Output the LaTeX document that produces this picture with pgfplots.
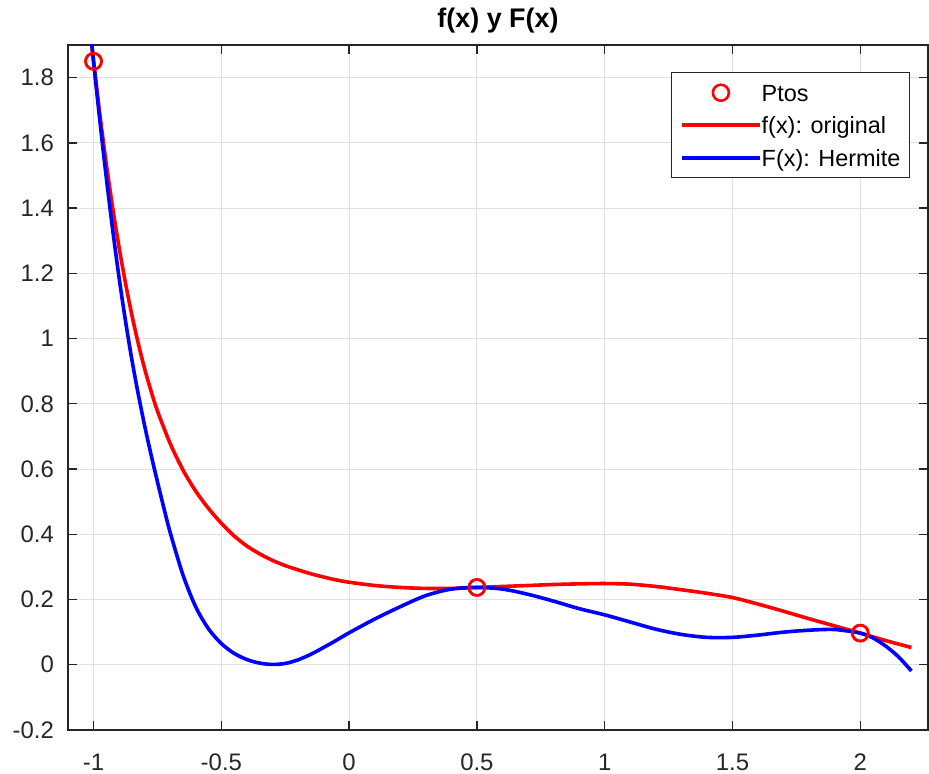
\documentclass[border=0pt]{standalone}
\usepackage{fontspec}
\setmainfont{Liberation Sans}
\usepackage{pgfplots}
\pgfplotsset{compat=1.18}
\definecolor{axgray}{gray}{0.15}
\definecolor{gridgray}{gray}{0.88}
\pgfplotsset{
  linelegend/.style={legend image code/.code={\draw[##1] (0bp,0bp) -- (78bp,0bp);}},
  marklegend/.style={legend image code/.code={\draw[##1] plot coordinates {(39bp,0bp)};}},
}
\begin{document}
\begin{tikzpicture}
\path[use as bounding box] (-68bp,-44bp) rectangle (861bp,730bp);
\begin{axis}[
  at={(0,0)}, anchor=south west,
  scale only axis, width=860bp, height=685bp,
  xmin=-1.1, xmax=2.265, ymin=-0.2, ymax=1.9,
  xtick={-1,-0.5,0,0.5,1,1.5,2},
  xticklabels={-1,-0.5,0,0.5,1,1.5,2},
  ytick={-0.2,0,0.2,0.4,0.6,0.8,1,1.2,1.4,1.6,1.8},
  yticklabels={-0.2,0,0.2,0.4,0.6,0.8,1,1.2,1.4,1.6,1.8},
  grid=major, major grid style={gridgray, line width=1bp},
  axis line style={axgray, line width=1.3bp},
  every tick/.style={axgray, line width=1.3bp},
  tick align=inside, major tick length=9bp,
  ticklabel style={font=\fontsize{24}{28}\selectfont, text=axgray, inner sep=0pt},
  xticklabel style={anchor=base, yshift=-40bp},
  yticklabel style={anchor=east, xshift=-14bp},
  title={\textbf{f(x) y F(x)}},
  title style={font=\fontsize{27}{32}\selectfont, at={(0.5,1)}, anchor=base, yshift=12bp, inner sep=0pt},
  legend cell align=left,
  legend style={at={(0.979,0.9606)}, anchor=north east, draw=axgray, line width=1bp,
    fill=white, font=\fontsize{23.5}{28}\selectfont, inner xsep=9bp, inner ysep=4bp,
    nodes={inner sep=0pt, text height=25bp, text depth=7.5bp},
    /tikz/every even column/.style={column sep=7bp}},
]
\addplot[only marks, mark=o, mark size=8bp, red, line width=2.6bp, marklegend]
  coordinates {(-1,1.85) (0.5,0.237) (2,0.097)};
\addlegendentry{Ptos}
\addplot[red, line width=3.6bp, smooth, linelegend]
  coordinates {
  (-1.01,1.92) (-1,1.85) (-0.975,1.685) (-0.95,1.535) (-0.925,1.4) (-0.9,1.279)
  (-0.875,1.17) (-0.85,1.072) (-0.825,0.985) (-0.8,0.907) (-0.775,0.839)
  (-0.75,0.778) (-0.7,0.678) (-0.65,0.597) (-0.6,0.532) (-0.55,0.479)
  (-0.5,0.434) (-0.45,0.395) (-0.4,0.364) (-0.35,0.34) (-0.3,0.32)
  (-0.25,0.304) (-0.2,0.291) (-0.15,0.279) (-0.1,0.269) (-0.05,0.26)
  (0,0.253) (0.1,0.243) (0.2,0.237) (0.3,0.234) (0.4,0.234) (0.5,0.237)
  (0.6,0.24) (0.7,0.243) (0.8,0.246) (0.9,0.248) (1,0.249) (1.1,0.247)
  (1.2,0.24) (1.3,0.23) (1.4,0.219) (1.5,0.206) (1.6,0.186) (1.7,0.164)
  (1.8,0.141) (1.9,0.119) (2,0.097) (2.1,0.074) (2.2,0.053)};
\addlegendentry{f(x): original}
\addplot[blue, line width=3.6bp, smooth, linelegend]
  coordinates {
  (-1.01,1.93) (-1,1.85) (-0.975,1.665) (-0.95,1.4925) (-0.925,1.3325) (-0.9,1.186)
  (-0.875,1.054) (-0.85,0.935) (-0.825,0.829) (-0.8,0.7325) (-0.775,0.644)
  (-0.75,0.561) (-0.725,0.481) (-0.7,0.405) (-0.65,0.275) (-0.6,0.177)
  (-0.55,0.11) (-0.5,0.065) (-0.45,0.035) (-0.4,0.016) (-0.35,0.005)
  (-0.3,0.001) (-0.25,0.004) (-0.2,0.015) (-0.15,0.032) (-0.1,0.053)
  (-0.05,0.075) (0,0.098) (0.1,0.14) (0.2,0.178) (0.3,0.212) (0.4,0.232)
  (0.5,0.237) (0.6,0.232) (0.7,0.216) (0.8,0.195) (0.9,0.172) (1,0.153)
  (1.1,0.131) (1.2,0.109) (1.3,0.093) (1.4,0.084) (1.5,0.084) (1.6,0.091)
  (1.7,0.1) (1.8,0.106) (1.9,0.108) (2,0.097) (2.05,0.082) (2.1,0.057)
  (2.15,0.024) (2.2,-0.019)};
\addlegendentry{F(x): Hermite}
\addplot[only marks, mark=o, mark size=8bp, red, line width=2.6bp, forget plot]
  coordinates {(-1,1.85) (0.5,0.237) (2,0.097)};
\end{axis}
\end{tikzpicture}
\end{document}
